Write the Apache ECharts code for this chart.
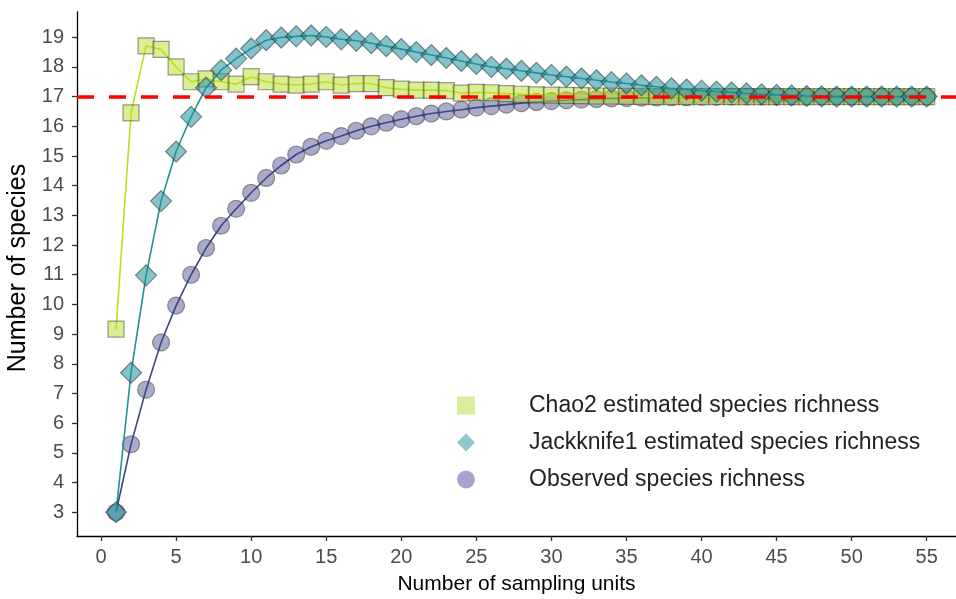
<!DOCTYPE html>
<html lang="en">
<head>
    <meta charset="UTF-8">
    <title>Species accumulation</title>
    <style>
        html, body { margin: 0; padding: 0; background: #fff; }
    </style>
</head>
<body>
<div id="main" style="width:956px;height:599px"></div>
<script src="https://cdn.jsdelivr.net/npm/echarts@6/dist/echarts.min.js"></script>
<script>
    // number of sampling units (x)
    var units = [1, 2, 3, 4, 5, 6, 7, 8, 9, 10, 11, 12, 13, 14, 15, 16, 17, 18, 19, 20,
        21, 22, 23, 24, 25, 26, 27, 28, 29, 30, 31, 32, 33, 34, 35, 36, 37, 38, 39, 40,
        41, 42, 43, 44, 45, 46, 47, 48, 49, 50, 51, 52, 53, 54, 55];

    var chao2 = [9.17, 16.45, 18.71, 18.59, 18.0, 17.5, 17.6, 17.5, 17.42, 17.67,
        17.5, 17.42, 17.39, 17.42, 17.5, 17.39, 17.44, 17.44, 17.3, 17.25,
        17.22, 17.22, 17.2, 17.12, 17.14, 17.13, 17.1, 17.08, 17.06, 17.05,
        17.04, 17.03, 17.02, 17.02, 17.01, 17.01, 17, 17, 17, 17,
        17, 17, 17, 17, 17, 17, 17, 17, 17, 17,
        17, 17, 17, 17, 17];

    var jack1 = [3.0, 7.7, 10.98, 13.48, 15.15, 16.32, 17.3, 17.89, 18.28, 18.62,
        18.9, 18.99, 19.03, 19.06, 19.01, 18.93, 18.88, 18.8, 18.7, 18.6,
        18.5, 18.4, 18.3, 18.2, 18.1, 18.0, 17.94, 17.87, 17.8, 17.73,
        17.67, 17.61, 17.55, 17.49, 17.44, 17.38, 17.33, 17.28, 17.24, 17.2,
        17.17, 17.14, 17.11, 17.08, 17.06, 17.04, 17.02, 17.01, 17, 17,
        17, 17, 17, 17, 17];

    var observed = [3.0, 5.29, 7.13, 8.72, 9.96, 11.0, 11.9, 12.65, 13.22, 13.76,
        14.26, 14.68, 15.05, 15.31, 15.51, 15.67, 15.85, 16.0, 16.12, 16.24,
        16.34, 16.43, 16.5, 16.56, 16.63, 16.68, 16.73, 16.78, 16.82, 16.85,
        16.88, 16.9, 16.92, 16.94, 16.95, 16.96, 16.97, 16.98, 16.98, 16.99,
        16.99, 17, 17, 17, 17, 17, 17, 17, 17, 17,
        17, 17, 17, 17, 17];

    var xTicks = [0, 5, 10, 15, 20, 25, 30, 35, 40, 45, 50, 55];
    var yTicks = [3, 4, 5, 6, 7, 8, 9, 10, 11, 12, 13, 14, 15, 16, 17, 18, 19];
    var trueRichness = 17;

    var names = ['Chao2 estimated species richness', 'Jackknife1 estimated species richness', 'Observed species richness'];

    function pairs(vals) {
        var res = [];
        for (var i = 0; i < vals.length; i++) {
            res.push([units[i], vals[i]]);
        }
        return res;
    }

    var myChart = echarts.init(document.getElementById('main'));
    var font = 'Liberation Sans, Arial, sans-serif';

    var tickStyle = { color: '#333', width: 1.3 };

    myChart.setOption({
        animation: false,
        backgroundColor: '#fff',
        grid: { left: 77, right: 0, top: 12, bottom: 63, outerBoundsMode: 'none' },
        legend: {
            orient: 'vertical',
            left: 457,
            top: 394,
            padding: 0,
            itemWidth: 18,
            itemHeight: 18,
            itemGap: 14,
            textStyle: { fontFamily: font, fontSize: 23, color: '#222', padding: [0, 0, 0, 49], lineHeight: 18 },
            data: [
                { name: names[0], icon: 'rect', itemStyle: { color: '#d9ed9a', borderWidth: 0 } },
                { name: names[1], icon: 'diamond', itemStyle: { color: '#8ec8cc', borderWidth: 0 } },
                { name: names[2], icon: 'circle', itemStyle: { color: '#a6a4d0', borderWidth: 0 } }
            ]
        },
        xAxis: {
            type: 'value',
            min: -1.6,
            max: 56.95,
            name: 'Number of sampling units',
            nameLocation: 'middle',
            nameGap: 38,
            nameTextStyle: { fontFamily: font, fontSize: 21, color: '#000' },
            axisLine: { show: true, onZero: false, lineStyle: { color: '#000', width: 1.3 } },
            axisTick: { show: true, length: 5, customValues: xTicks, lineStyle: tickStyle },
            axisLabel: { customValues: xTicks, fontFamily: font, fontSize: 20, color: '#4d4d4d', margin: 11 },
            splitLine: { show: false }
        },
        yAxis: {
            type: 'value',
            min: 2.2,
            max: 19.85,
            name: 'Number of species',
            nameLocation: 'middle',
            nameGap: 26,
            nameTextStyle: { fontFamily: font, fontSize: 25, color: '#000', padding: [0, 0, 0, 12] },
            axisLine: { show: true, onZero: false, lineStyle: { color: '#000', width: 1.3 } },
            axisTick: { show: true, length: 5, customValues: yTicks, lineStyle: tickStyle },
            axisLabel: { customValues: yTicks, fontFamily: font, fontSize: 20, color: '#4d4d4d', margin: 13 },
            splitLine: { show: false }
        },
        series: [
            {
                name: names[2],
                type: 'line',
                data: pairs(observed),
                symbol: 'circle',
                symbolSize: 17,
                lineStyle: { color: '#414487', width: 1.6 },
                itemStyle: { color: 'rgba(65,68,135,0.45)', borderColor: 'rgba(40,40,40,0.45)', borderWidth: 1.2 },
                z: 2
            },
            {
                name: names[0],
                type: 'line',
                data: pairs(chao2),
                symbol: 'rect',
                symbolSize: 16,
                lineStyle: { color: '#b5e21e', width: 1.6 },
                itemStyle: { color: 'rgba(186,222,40,0.5)', borderColor: 'rgba(40,40,40,0.45)', borderWidth: 1.2 },
                z: 3
            },
            {
                name: names[1],
                type: 'line',
                data: pairs(jack1),
                symbol: 'diamond',
                symbolSize: 21,
                lineStyle: { color: '#20928c', width: 1.6 },
                itemStyle: { color: 'rgba(32,146,160,0.55)', borderColor: 'rgba(30,40,40,0.5)', borderWidth: 1.2 },
                z: 4,
                markLine: {
                    silent: true,
                    symbol: ['none', 'none'],
                    label: { show: false },
                    lineStyle: { color: '#ff0000', width: 3.5, type: [17, 15] },
                    data: [{ yAxis: trueRichness }],
                    z: 10
                }
            }
        ]
    });
</script>
</body>
</html>
